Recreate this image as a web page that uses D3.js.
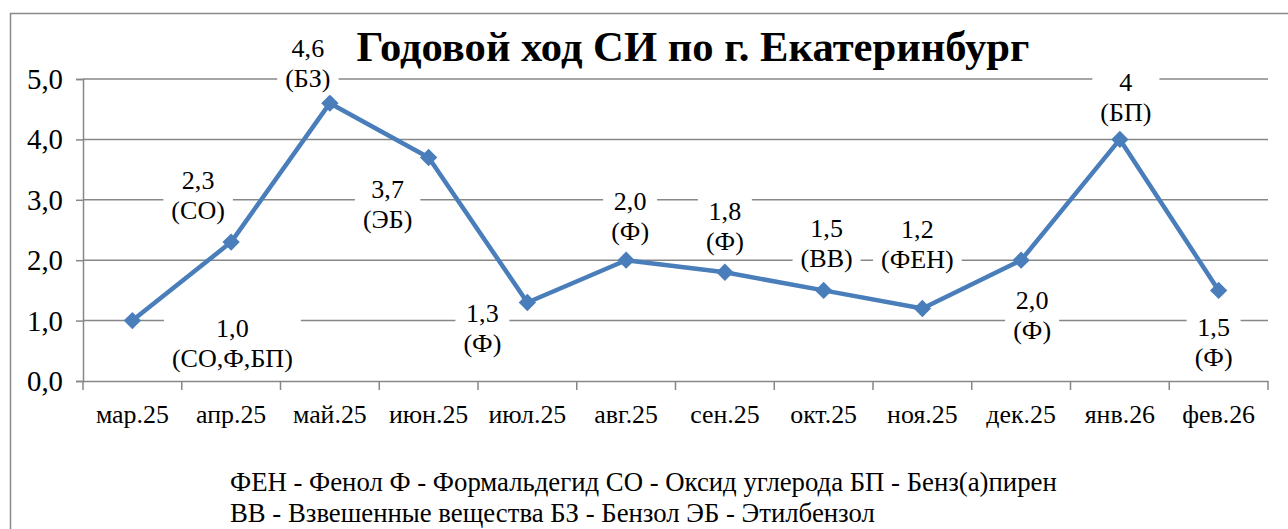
<!DOCTYPE html>
<html><head><meta charset="utf-8">
<script src="https://cdn.jsdelivr.net/npm/d3@7"></script>
</head>
<body style="margin:0;background:#fff">
<svg id="fig" width="1288" height="529" style="display:block"></svg>
<script>
const months = ["мар.25","апр.25","май.25","июн.25","июл.25","авг.25","сен.25","окт.25","ноя.25","дек.25","янв.26","фев.26"];
const values = [1.0, 2.3, 4.6, 3.7, 1.3, 2.0, 1.8, 1.5, 1.2, 2.0, 4.0, 1.5];
const valueText = ["1,0","2,3","4,6","3,7","1,3","2,0","1,8","1,5","1,2","2,0","4","1,5"];
const substances = ["(СО,Ф,БП)","(СО)","(БЗ)","(ЭБ)","(Ф)","(Ф)","(Ф)","(ВВ)","(ФЕН)","(Ф)","(БП)","(Ф)"];
const yTicks = [0,1,2,3,4,5];
const title = "Годовой ход СИ по г. Екатеринбург";
const legendLines = ["ФЕН - Фенол Ф - Формальдегид СО - Оксид углерода БП - Бенз(а)пирен",
                     "ВВ - Взвешенные вещества БЗ - Бензол ЭБ - Этилбензол"];
// label offsets (dx, dy of first line centre relative to the point)
const labelOffsets = [[100,7],[-33,-62],[-22,-55],[-41,31],[-45,10],[4,-59],[0,-61],[3,-63],[-5,-80],[11,40],[6,-58],[-5,36]];

const svg = d3.select("#fig");
const FONT = "'Liberation Serif', 'Times New Roman', serif";
const color = "#4a7ebb", gridColor = "#878787";
svg.attr("font-family",FONT);

// font size that gives a text the width seen in the reference
function fitSize(str, target, weight){
  const t = svg.append("text").attr("font-size",100)
    .attr("font-weight",weight||"normal").text(str);
  const w = t.node().getComputedTextLength(); t.remove();
  return 100*target/w;
}
const titleSize = fitSize(title, 673, "bold");
const legendSize = fitSize(legendLines[0], 827);
const xTickSize = fitSize("мар.25", 73);
const yTickSize = fitSize("5,0", 36);
const labelSize = fitSize("(СО,Ф,БП)", 121);

const x = d3.scaleBand().domain(months).range([83,1268]).padding(0);
const y = d3.scaleLinear().domain([0,5]).range([381,79]);
const fmt = v => d3.format(".1f")(v).replace(".",",");

// chart border
svg.append("rect").attr("x",10.5).attr("y",13.5).attr("width",1400).attr("height",700)
  .attr("fill","#fff").attr("stroke","#8a8a8a").attr("stroke-width",1.5);

// y axis
const gy = svg.append("g").attr("transform","translate(83,0)")
  .call(d3.axisLeft(y).tickValues(yTicks).tickFormat(fmt).tickSize(7).tickPadding(13));
gy.attr("font-family",FONT);
gy.select(".domain").attr("stroke",gridColor).attr("stroke-width",1.5);
gy.selectAll(".tick line").attr("stroke",gridColor).attr("stroke-width",1.5);
gy.selectAll(".tick text").attr("font-size",yTickSize).attr("fill","#000").attr("dy","0.33em");
// gridlines
svg.append("g").selectAll("line").data(yTicks.filter(d=>d>0)).join("line")
  .attr("x1",83).attr("x2",1268).attr("y1",d=>y(d)).attr("y2",d=>y(d))
  .attr("stroke",gridColor).attr("stroke-width",1.5);

// x axis
const gx = svg.append("g").attr("transform","translate(0,381)")
  .call(d3.axisBottom(x).tickSize(0).tickPadding(0));
gx.attr("font-family",FONT);
gx.select(".domain").attr("stroke",gridColor).attr("stroke-width",1.5);
gx.selectAll(".tick text").attr("font-size",xTickSize).attr("fill","#000").attr("y",42).attr("dy",0);
const bounds = months.map(m=>x(m)).concat([x.range()[1]]);
gx.selectAll(".bt").data(bounds).join("line").attr("class","bt")
  .attr("x1",d=>d).attr("x2",d=>d).attr("y1",0).attr("y2",9)
  .attr("stroke",gridColor).attr("stroke-width",1.5);

const cx = m => x(m) + x.bandwidth()/2;

// line
svg.append("path").datum(values)
  .attr("fill","none").attr("stroke",color).attr("stroke-width",4.5).attr("stroke-linejoin","round")
  .attr("d", d3.line().x((d,i)=>cx(months[i])).y(d=>y(d)));

// markers
svg.append("g").selectAll("path").data(values).join("path")
  .attr("d", d3.symbol().type(d3.symbolSquare).size(150))
  .attr("transform",(d,i)=>`translate(${cx(months[i])},${y(d)}) rotate(45)`)
  .attr("fill",color);

// data labels
const lg = svg.append("g");
values.forEach((v,i)=>{
  const px = cx(months[i]) + labelOffsets[i][0];
  const py = y(v) + labelOffsets[i][1];
  const g = lg.append("g");
  const r = g.append("rect").attr("fill","#fff");
  const t1 = g.append("text").attr("x",px).attr("y",py).attr("dy","0.35em")
    .attr("text-anchor","middle").attr("font-size",labelSize).text(valueText[i]);
  const t2 = g.append("text").attr("x",px).attr("y",py+30).attr("dy","0.35em")
    .attr("text-anchor","middle").attr("font-size",labelSize).text(substances[i]);
  const w = Math.max(t1.node().getComputedTextLength(), t2.node().getComputedTextLength());
  r.attr("x",px-w/2-8).attr("y",py-15).attr("width",w+16).attr("height",62);
});

// title
svg.append("text").attr("x",693).attr("y",61).attr("text-anchor","middle")
  .attr("font-size",titleSize).attr("font-weight","bold").text(title);

// legend
legendLines.forEach((d,i)=>{
  svg.append("text").attr("x",230).attr("y",491+i*31).attr("font-size",legendSize).text(d);
});
</script>
</body></html>
